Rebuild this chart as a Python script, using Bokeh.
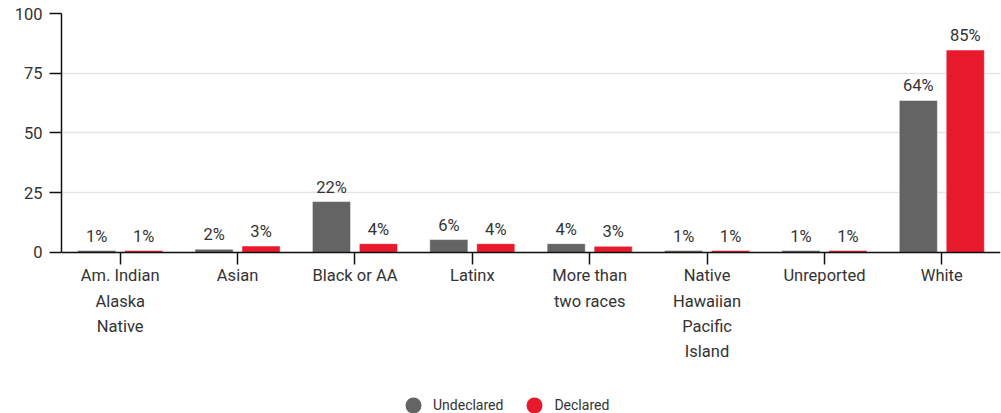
from bokeh.plotting import figure
from bokeh.models import ColumnDataSource, Range1d, FactorRange, Legend, LegendItem
from bokeh.transform import dodge
from bokeh.core.properties import value
from bokeh.embed import file_html
from bokeh.resources import INLINE

categories = ["Am. Indian\nAlaska\nNative", "Asian", "Black or AA", "Latinx",
              "More than\ntwo races", "Native\nHawaiian\nPacific\nIsland",
              "Unreported", "White"]
undeclared = [0.8, 1.4, 21.3, 5.4, 3.7, 0.8, 0.8, 63.6]
declared = [0.8, 2.7, 3.7, 3.7, 2.6, 0.8, 0.8, 84.7]
undeclared_labels = ["1%", "2%", "22%", "6%", "4%", "1%", "1%", "64%"]
declared_labels = ["1%", "3%", "4%", "4%", "3%", "1%", "1%", "85%"]
y_ticks = [0, 25, 50, 75, 100]

GRAY = "#646464"
RED = "#e8192c"
FONT = "Roboto"
TXT = "#333333"

src = ColumnDataSource(dict(cat=categories, und=undeclared, dec=declared,
                            und_l=undeclared_labels, dec_l=declared_labels))

# the frame reaches down to the legend row; the value axis is bounded to 0..100
p = figure(x_range=FactorRange(*categories, range_padding=0), y_range=Range1d(-72.4, 100),
           frame_width=939, frame_height=412, output_backend="svg", toolbar_location=None,
           min_border_left=61, min_border_right=1, min_border_top=13, min_border_bottom=0)
p.outline_line_color = None

x_u = dodge("cat", -0.2, range=p.x_range)
x_d = dodge("cat", 0.2, range=p.x_range)

p.vbar(x=x_u, top="und", width=0.325, source=src,
       fill_color=GRAY, line_color="white", line_alpha=0.5, line_width=1)
p.vbar(x=x_d, top="dec", width=0.325, source=src,
       fill_color=RED, line_color="white", line_alpha=0.5, line_width=1)

p.text(x=x_u, y="und", text="und_l", source=src,
       text_align="center", text_baseline="bottom", y_offset=-5,
       text_font=value(FONT), text_font_size="16.5px", text_color=TXT)
p.text(x=x_d, y="dec", text="dec_l", source=src,
       text_align="center", text_baseline="bottom", y_offset=-5,
       text_font=value(FONT), text_font_size="16.5px", text_color=TXT)

# zero-size proxy markers that only supply the round legend glyphs
r_u = p.scatter(x=x_u, y="und", source=src, marker="circle", size=0,
                fill_color=GRAY, line_color=None)
r_d = p.scatter(x=x_d, y="dec", source=src, marker="circle", size=0,
                fill_color=RED, line_color=None)
legend = Legend(items=[LegendItem(label="Undeclared", renderers=[r_u], index=0),
                       LegendItem(label="Declared", renderers=[r_d], index=0)],
                orientation="horizontal", location=(332, 0),
                label_text_font=FONT, label_text_font_size="14px", label_text_color=TXT,
                glyph_width=40, glyph_height=40, label_standoff=0, spacing=11,
                border_line_color=None, background_fill_alpha=0,
                inactive_fill_alpha=0, margin=0, padding=0)
p.add_layout(legend, "center")

p.xgrid.grid_line_color = None
p.ygrid.grid_line_color = "#e5e5e5"
p.ygrid.grid_line_width = 1.5
p.yaxis.ticker = y_ticks
p.yaxis.bounds = (0, 100)
p.xaxis.fixed_location = 0

for ax in (p.xaxis[0], p.yaxis[0]):
    ax.axis_line_color = "#111111"
    ax.axis_line_width = 1.5
    ax.major_tick_line_color = "#111111"
    ax.major_tick_line_width = 1.5
    ax.major_tick_out = 12
    ax.major_tick_in = 0
    ax.minor_tick_line_color = None
    ax.major_label_text_font = FONT
    ax.major_label_text_font_size = "16.5px"
    ax.major_label_text_color = TXT

p.yaxis.major_label_standoff = 7
p.xaxis.major_label_standoff = 2
p.xaxis.major_label_text_line_height = 1.32

open("out.html", "w").write(file_html(p, INLINE))
